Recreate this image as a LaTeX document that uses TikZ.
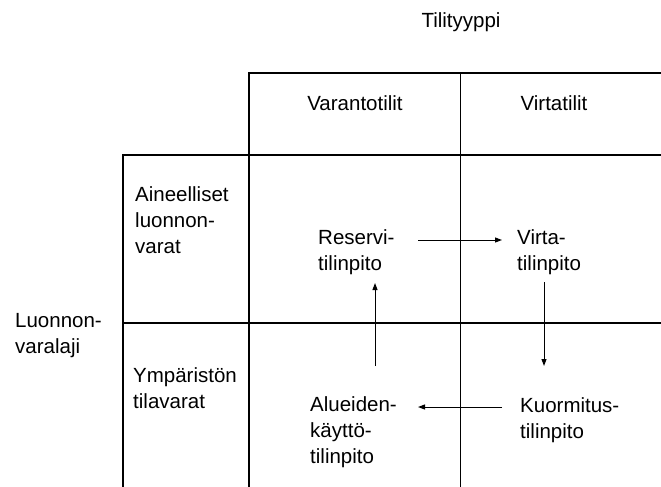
\documentclass[tikz,border=0pt]{standalone}
\usepackage{fontspec}
\setmainfont{Liberation Sans}
\usetikzlibrary{arrows.meta}
\begin{document}
\begin{tikzpicture}[x=1pt,y=-1pt,
  grid/.style={line width=1.1pt,black},
  lbl/.style={inner sep=0pt,align=left,font=\fontsize{20.5}{26}\selectfont},
  arr/.style={line width=1pt,-{Triangle[length=7pt,width=5pt]}}]
\useasboundingbox (0,0) rectangle (661,487);
% grid
\draw[grid] (249,487) -- (249,73) -- (661,73);
\draw[grid] (123,487) -- (123,155) -- (661,155);
\draw[grid] (123,323) -- (661,323);
\draw[grid,line width=0.8pt] (460,73) -- (460,487);
% headers
\node[lbl,anchor=base] (tt) at (461,28) {Tilityyppi};
\node[lbl,anchor=base] (vt) at (355,110) {Varantotilit};
\node[lbl,anchor=base] (vi) at (554,110) {Virtatilit};
\node[lbl,anchor=base west] (ain) at (135,253) {Aineelliset\\luonnon-\\varat};
\node[lbl,anchor=base west] (ymp) at (133,408) {Ympäristön\\tilavarat};
\node[lbl,anchor=base west] (luo) at (15,353) {Luonnon-\\varalaji};
% cells
\node[lbl,anchor=base west] (res) at (318,270) {Reservi-\\tilinpito};
\node[lbl,anchor=base west] (vir) at (517,270) {Virta-\\tilinpito};
\node[lbl,anchor=base west] (alu) at (310,463) {Alueiden-\\käyttö-\\tilinpito};
\node[lbl,anchor=base west] (kuo) at (520,438) {Kuormitus-\\tilinpito};
% arrow ends
\coordinate (r1) at (418,240);
\coordinate (v1) at (502,240);
\coordinate (v2) at (544,282);
\coordinate (k1) at (544,366);
\coordinate (k2) at (502,407);
\coordinate (a1) at (418,407);
\coordinate (a2) at (375,366);
\coordinate (r2) at (375,283);
\draw[arr] (r1) -- (v1);
\draw[arr] (v2) -- (k1);
\draw[arr] (k2) -- (a1);
\draw[arr] (a2) -- (r2);
\end{tikzpicture}
\end{document}
